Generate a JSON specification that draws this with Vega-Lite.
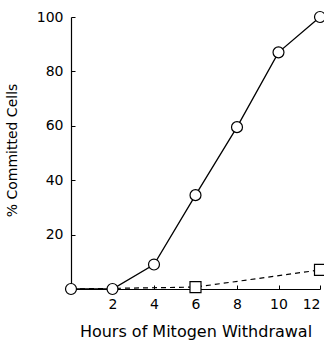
{
  "$schema": "https://vega.github.io/schema/vega-lite/v6.json",
  "autosize": "none",
  "width": 249,
  "height": 272,
  "padding": {"left": 71, "top": 17, "right": 4, "bottom": 53},
  "background": "white",
  "config": {
    "view": {"stroke": null},
    "axis": {
      "grid": false,
      "domainColor": "black",
      "domainWidth": 1.2,
      "tickColor": "black",
      "tickSize": -4,
      "labelFont": "DejaVu Sans",
      "labelFontSize": 14,
      "labelColor": "black",
      "titleFont": "DejaVu Sans",
      "titleFontWeight": "normal",
      "titleColor": "black"
    }
  },
  "data": {
    "values": [
      {"series": "committed", "hours": 0, "pct": 0},
      {"series": "committed", "hours": 2, "pct": 0},
      {"series": "committed", "hours": 4, "pct": 9},
      {"series": "committed", "hours": 6, "pct": 34.5},
      {"series": "committed", "hours": 8, "pct": 59.5},
      {"series": "committed", "hours": 10, "pct": 87},
      {"series": "committed", "hours": 12, "pct": 100},
      {"series": "control", "hours": 0, "pct": 0},
      {"series": "control", "hours": 6, "pct": 0.7},
      {"series": "control", "hours": 12, "pct": 7}
    ]
  },
  "encoding": {
    "x": {
      "field": "hours", "type": "quantitative",
      "scale": {"domain": [0, 12], "nice": false, "zero": false},
      "axis": {"values": [2, 4, 6, 8, 10, 12], "title": "Hours of Mitogen Withdrawal", "titleFontSize": 16, "titlePadding": 12, "labelPadding": 12}
    },
    "y": {
      "field": "pct", "type": "quantitative",
      "scale": {"domain": [0, 100], "nice": false},
      "axis": {"values": [20, 40, 60, 80, 100], "title": "% Committed Cells", "titleFontSize": 14, "labelPadding": 12, "titleX": -52, "titleY": 133}
    }
  },
  "layer": [
    {
      "transform": [{"filter": "datum.series == 'control'"}],
      "mark": {"type": "line", "color": "black", "strokeWidth": 1.2, "strokeDash": [5, 4]}
    },
    {
      "transform": [{"filter": "datum.series == 'committed'"}],
      "mark": {"type": "line", "color": "black", "strokeWidth": 1.3}
    },
    {
      "transform": [{"filter": "datum.series == 'control' && datum.hours > 0"}],
      "mark": {"type": "point", "shape": "square", "size": 121, "filled": true, "fill": "white", "stroke": "black", "strokeWidth": 1.2, "opacity": 1}
    },
    {
      "transform": [{"filter": "datum.series == 'committed'"}],
      "mark": {"type": "point", "shape": "circle", "size": 120, "filled": true, "fill": "white", "stroke": "black", "strokeWidth": 1.2, "opacity": 1}
    }
  ]
}
